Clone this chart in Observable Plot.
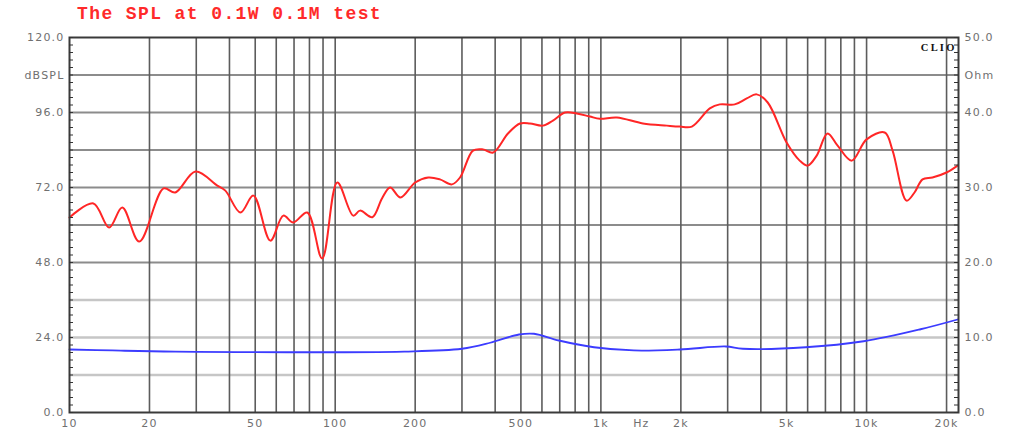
<!DOCTYPE html>
<html><head><meta charset="utf-8">
<script src="https://cdn.jsdelivr.net/npm/d3@7"></script>
<script src="https://cdn.jsdelivr.net/npm/@observablehq/plot@0.6"></script>
<style>
body{margin:0;background:#fff;}
#wrap{position:relative;width:1013px;height:432px;overflow:hidden;}
#title{position:absolute;left:77px;top:4px;font:bold 18px "Liberation Mono",monospace;color:#ff2a2a;letter-spacing:1.4px;white-space:nowrap;}
#chart{position:absolute;left:0;top:0;}
</style></head><body>
<div id="wrap"><div id="chart"></div><div id="title">The SPL at 0.1W 0.1M test</div></div>
<script>
// SPL response (Hz, dB)
const splFreq = [10, 12.3, 14.1, 15.8, 18.3, 22.6, 25, 29.8, 36, 38.6, 44, 49.2, 57, 63.8, 69.5, 78.5, 89.3, 101.8, 116.9, 124, 138, 150, 161, 176, 200, 224, 248, 275, 295, 330, 360, 393, 447, 496, 541, 605, 660, 733, 812, 909, 991, 1148, 1439, 1771, 1980, 2200, 2570, 2802, 3190, 3540, 3857, 4245, 5000, 5600, 6000, 6490, 7130, 7780, 8790, 10000, 11700, 12530, 14140, 15150, 16240, 17700, 20000, 22000];
const splDb   = [62.4, 66.9, 59.2, 65.6, 54.7, 71.7, 70.4, 77.1, 72.6, 71, 64, 69.4, 55, 63, 60.8, 64, 49.3, 73.6, 63, 64.6, 62.5, 68.5, 72, 68.8, 73.6, 75.2, 74.6, 73, 75.2, 83.8, 84.2, 83.2, 89.3, 92.5, 92.5, 91.8, 93.4, 96, 95.7, 94.7, 94, 94.4, 92.5, 91.8, 91.5, 91.5, 97.3, 98.6, 98.6, 100.5, 101.8, 99.2, 86.4, 80.6, 79, 82.2, 89.3, 85.4, 80.6, 87.4, 89.6, 83.8, 67.8, 70.4, 74.6, 75.2, 76.8, 79];
// Impedance (Hz, Ohm)
const impFreq = [10, 14.5, 25, 182, 300, 383, 492, 560, 695, 942, 1330, 1982, 2951, 3420, 5900, 9750, 15960, 22000];
const impOhm  = [8.4, 8.27, 8.13, 8.13, 8.5, 9.3, 10.4, 10.5, 9.6, 8.7, 8.27, 8.4, 8.8, 8.5, 8.7, 9.5, 11.1, 12.4];

const xDomain = [10, 22180];
const xLabelVals = [10, 20, 50, 100, 200, 500, 1000, 2000, 5000, 10000, 20000];
const xLabelText = ["10", "20", "50", "100", "200", "500", "1k", "2k", "5k", "10k", "20k"];
const unitHz = {f: 1420, text: "Hz"};
const vGrid = [20,30,40,50,60,70,80,90,100,200,300,400,500,600,700,800,900,1000,2000,3000,4000,5000,6000,7000,8000,9000,10000,20000];
const hGridDark = [48,60,72,84,96,108];
const hGridLight = [12,24,36];
const leftTicks = [0, 24, 48, 72, 96, 108, 120];
const leftText  = ["0.0", "24.0", "48.0", "72.0", "96.0", "dBSPL", "120.0"];
const rightText = ["0.0", "10.0", "20.0", "30.0", "40.0", "Ohm", "50.0"];
const ohmToDb = 120 / 50;
const minorTicks = d3.range(0, 120.01, 2.4);

const spl = splFreq.map((f, i) => ({f, v: splDb[i]}));
const imp = impFreq.map((f, i) => ({f, v: impOhm[i] * ohmToDb}));
const leftLab = leftTicks.map((v, i) => ({v, t: leftText[i]}));
const rightLab = leftTicks.map((v, i) => ({v, t: rightText[i]}));
const xLab = xLabelVals.map((f, i) => ({f, t: xLabelText[i]}));

const W = 1013, ML = 69, MR = 55, innerW = W - ML - MR;
const lab = {fill: "#707070", fontSize: 11, fontFamily: "DejaVu Sans"};

const chart = Plot.plot({
  width: W, height: 432,
  marginLeft: ML, marginRight: MR, marginTop: 37, marginBottom: 20,
  style: {background: "#fff", fontFamily: "DejaVu Sans"},
  x: {type: "log", domain: xDomain, axis: null},
  y: {domain: [0, 120], axis: null},
  marks: [
    Plot.ruleY(hGridLight, {stroke: "#c6c6c6", strokeWidth: 2.6}),
    Plot.ruleY(hGridDark, {stroke: "#8c8c8c", strokeWidth: 2}),
    Plot.ruleX(vGrid, {stroke: "#5c5c5c", strokeWidth: 1.6}),
    Plot.line(imp, {x: "f", y: "v", stroke: "#3c3cff", strokeWidth: 1.8, curve: "catmull-rom"}),
    Plot.line(spl, {x: "f", y: "v", stroke: "#ff2626", strokeWidth: 2, curve: "catmull-rom"}),
    Plot.frame({stroke: "#3a3a3a", strokeWidth: 2}),
    Plot.ruleY(minorTicks, {insetRight: innerW - 4, stroke: "#333", strokeWidth: 1}),
    Plot.ruleY(minorTicks, {insetLeft: innerW - 4, stroke: "#333", strokeWidth: 1}),
    Plot.text(leftLab, {y: "v", text: "t", frameAnchor: "left", textAnchor: "end", dx: -5, ...lab}),
    Plot.text(rightLab, {y: "v", text: "t", frameAnchor: "right", textAnchor: "start", dx: 6, ...lab}),
    Plot.text(xLab, {x: "f", text: "t", frameAnchor: "bottom", dy: 14, ...lab}),
    Plot.text([unitHz], {x: "f", text: "text", frameAnchor: "bottom", dy: 14, ...lab}),
    Plot.text(["CLIO"], {frameAnchor: "top-right", textAnchor: "end", dx: -2, dy: 6, fill: "#111", fontSize: 10.5, fontWeight: "bold", fontFamily: "Liberation Serif"})
  ]
});
document.getElementById("chart").appendChild(chart);
d3.select(chart).selectAll("text").each(function() {
  const t = d3.select(this);
  if (t.text() === "CLIO") t.attr("letter-spacing", "2.2");
  else t.attr("letter-spacing", "1.2");
});
</script>
</body></html>
